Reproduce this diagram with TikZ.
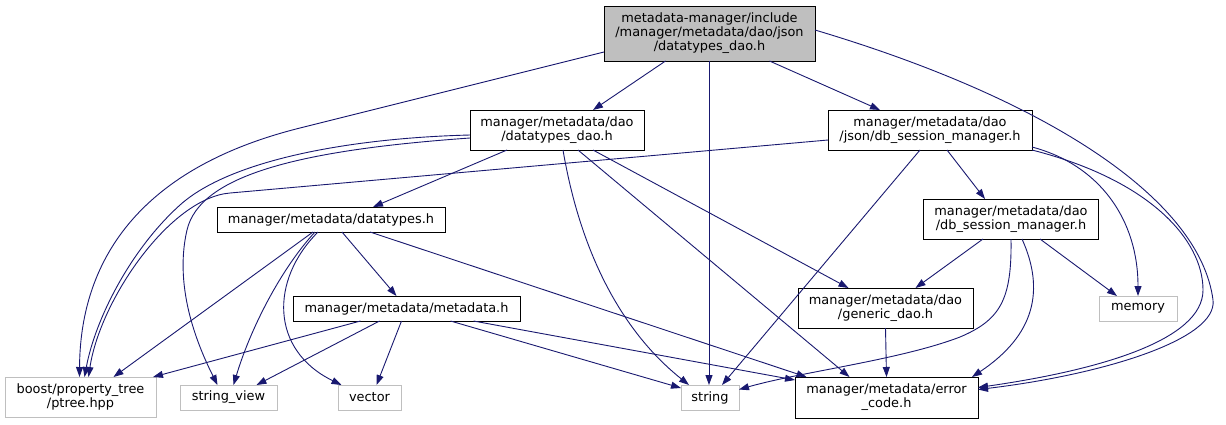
\documentclass[tikz,border=0pt]{standalone}
\usepackage{fontspec}
\setmainfont{DejaVu Sans}
\usetikzlibrary{arrows.meta}
\definecolor{edgeblue}{HTML}{191970}
\definecolor{leafgray}{HTML}{BFBFBF}
\begin{document}
\begin{tikzpicture}[x=1pt,y=-1pt,
  box/.style={draw=black, line width=1pt, fill=white, inner sep=0pt, outer sep=0pt, align=center, font=\fontsize{12.9}{14}\selectfont, text=black},
  mainbox/.style={box, fill=leafgray},
  leaf/.style={box, draw=leafgray},
  edge/.style={draw=edgeblue, line width=0.9pt, -{Triangle[length=10pt,width=7pt]}},
]
\useasboundingbox (0,0) rectangle (1226,424);
\fill[white] (0,0) rectangle (1226,424);

% nodes
\node[mainbox, minimum width=211pt, minimum height=55pt] (root) at (709.5,33.5) {metadata-manager/include\\/manager/metadata/dao/json\\/datatypes\_dao.h};
\node[box, minimum width=174pt, minimum height=40pt] (dtdao) at (557,130) {manager/metadata/dao\\/datatypes\_dao.h};
\node[box, minimum width=204pt, minimum height=40pt] (jsess) at (930,130) {manager/metadata/dao\\/json/db\_session\_manager.h};
\node[box, minimum width=228pt, minimum height=25pt] (dtypes) at (331,219.5) {manager/metadata/datatypes.h};
\node[box, minimum width=175pt, minimum height=40pt] (dsess) at (1011,219) {manager/metadata/dao\\/db\_session\_manager.h};
\node[box, minimum width=227pt, minimum height=25pt] (meta) at (406.5,308.5) {manager/metadata/metadata.h};
\node[box, minimum width=175pt, minimum height=40pt] (gdao) at (885.5,308) {manager/metadata/dao\\/generic\_dao.h};
\node[leaf, minimum width=78pt, minimum height=25pt] (memory) at (1138,308.5) {memory};
\node[leaf, minimum width=151pt, minimum height=40pt] (ptree) at (80.5,397) {boost/property\_tree\\/ptree.hpp};
\node[leaf, minimum width=97pt, minimum height=25pt] (sview) at (228.5,397.5) {string\_view};
\node[leaf, minimum width=63pt, minimum height=25pt] (vector) at (369.5,397.5) {vector};
\node[leaf, minimum width=58pt, minimum height=25pt] (string) at (710,397.5) {string};
\node[box, minimum width=183pt, minimum height=41pt] (errc) at (886.5,397.5) {manager/metadata/error\\\_code.h};

% root edges
\draw[edge] ([yshift=9pt]root.south west) -- (300,128) .. controls (120,173) and (80,280) .. ([xshift=-1pt]ptree.north);
\draw[edge] ([xshift=-44pt]root.south) -- ([xshift=36pt]dtdao.north);
\draw[edge] ([xshift=-0.5pt]root.south) -- ([xshift=-1pt]string.north);
\draw[edge] ([xshift=60pt]root.south) -- ([xshift=-50pt]jsess.north);
\draw[edge] ([yshift=3.5pt]root.east) .. controls (1050,100) and (1200,200) .. (1213,300) .. controls (1218,340) and (1100,375) .. ([yshift=8pt]errc.east);

% datatypes_dao edges
\draw[edge] ([yshift=-5pt]dtdao.west) .. controls (350,138) and (230,160) .. (180,205) .. controls (130,250) and (95,320) .. ([xshift=4pt]ptree.north);
\draw[edge] ([yshift=-8pt]dtdao.west) .. controls (300,150) and (200,175) .. (187,230) .. controls (173,290) and (200,350) .. ([xshift=-11pt]sview.north);
\draw[edge] ([xshift=-50pt]dtdao.south) -- ([xshift=42pt]dtypes.north);
\draw[edge] ([xshift=6pt]dtdao.south) .. controls (580,250) and (620,330) .. ([xshift=-21pt]string.north);
\draw[edge] ([xshift=21pt]dtdao.south) -- ([xshift=-37pt]errc.north);
\draw[edge] ([xshift=36pt]dtdao.south) -- ([xshift=-37pt]gdao.north);

% json db_session_manager edges
\draw[edge] ([yshift=-10pt]jsess.west) -- (230,193) .. controls (170,198) and (100,300) .. ([xshift=8pt]ptree.north);
\draw[edge] ([xshift=-10pt]jsess.south) -- ([xshift=12pt]string.north);
\draw[edge] ([xshift=17pt]jsess.south) -- ([xshift=-26pt]dsess.north);
\draw[edge] ([yshift=3pt]jsess.south east) .. controls (1100,165) and (1138,220) .. (memory.north);
\draw[edge] (jsess.south east) .. controls (1150,180) and (1203,240) .. (1203,290) .. controls (1203,340) and (1100,370) .. ([yshift=10pt]errc.east);

% datatypes edges
\draw[edge] ([xshift=-18pt]dtypes.south) -- ([xshift=33pt]ptree.north);
\draw[edge] ([xshift=-16pt]dtypes.south) .. controls (280,270) and (250,330) .. ([xshift=5pt]sview.north);
\draw[edge] ([xshift=-13pt]dtypes.south) .. controls (270,280) and (270,350) .. ([xshift=-28pt]vector.north);
\draw[edge] ([xshift=11pt]dtypes.south) -- ([xshift=-10pt]meta.north);
\draw[edge] ([xshift=39pt]dtypes.south) -- ([xshift=-80pt]errc.north);

% metadata edges
\draw[edge] ([xshift=-46pt]meta.south) -- ([xshift=-3pt]ptree.north east);
\draw[edge] ([xshift=-27pt]meta.south) -- ([xshift=28pt]sview.north);
\draw[edge] ([xshift=-5pt]meta.south) -- ([xshift=7pt]vector.north);
\draw[edge] ([xshift=44pt]meta.south) -- ([yshift=-3pt]string.north west);
\draw[edge] ([xshift=67pt]meta.south) -- ([yshift=-3pt]errc.north west);

% dao db_session_manager edges
\draw[edge] ([xshift=-28pt]dsess.south) -- ([xshift=30pt]gdao.north);
\draw[edge] ([xshift=29pt]dsess.south) -- ([xshift=-21pt]memory.north);
\draw[edge] (dsess.south) .. controls (1012,300) and (1000,320) .. (960,337) .. controls (900,360) and (800,372) .. ([yshift=8pt]string.east);
\draw[edge] ([xshift=11pt]dsess.south) .. controls (1045,290) and (1035,335) .. ([xshift=-6pt]errc.north east);

% generic_dao edge
\draw[edge] (gdao.south) -- (errc.north);
\end{tikzpicture}
\end{document}
